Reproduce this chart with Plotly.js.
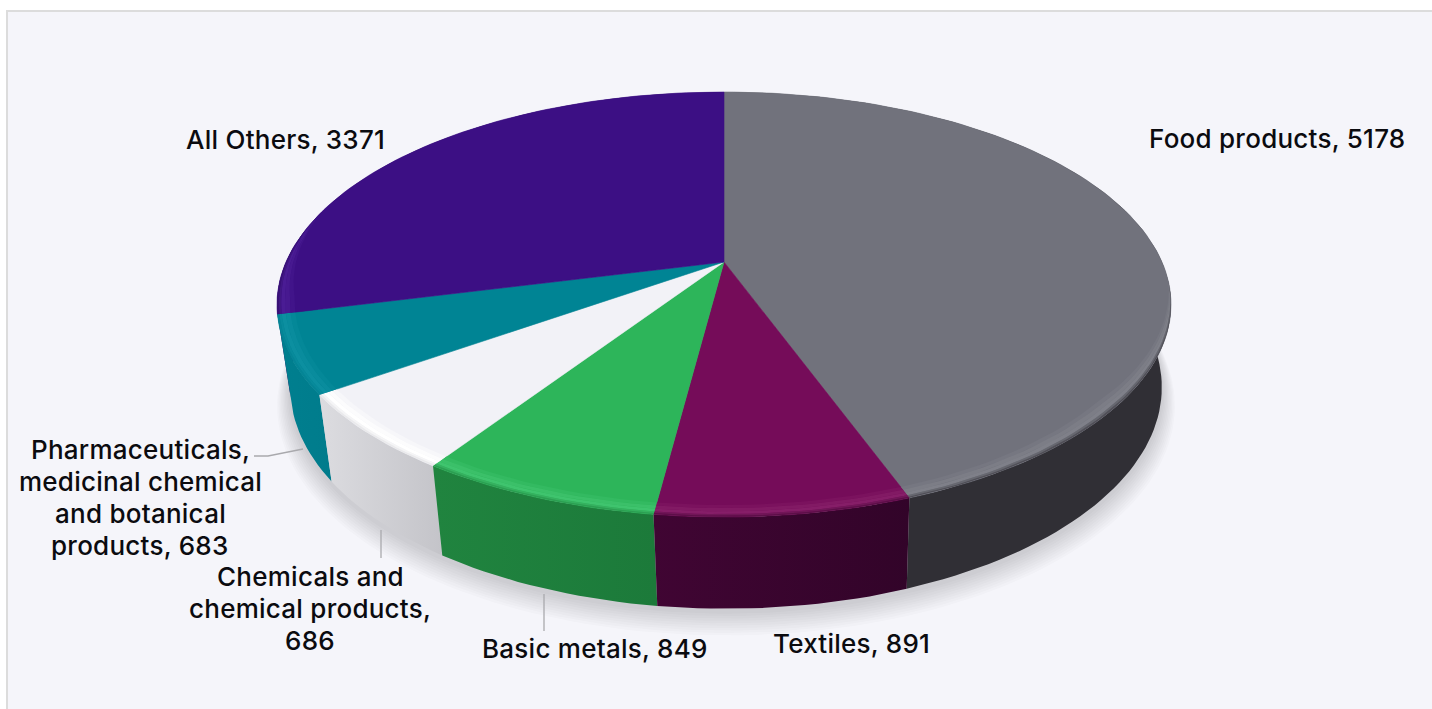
<!DOCTYPE html>
<html><head><meta charset="utf-8">
<script src="https://cdn.plot.ly/plotly-3.0.1.min.js"></script>
<style>html,body{margin:0;padding:0;background:#fff;overflow:hidden}#chart{width:1432px;height:709px}
.annotation-text{letter-spacing:0.25px}</style>
</head><body><div id="chart"></div>
<script>
// Data
const categories = ["Food products","Textiles","Basic metals","Chemicals and chemical products","Pharmaceuticals, medicinal chemical and botanical products","All Others"];
const values = [5178,891,849,686,683,3371];
const labelNames = ["Food products","Textiles","Basic metals","Chemicals and<br>chemical products","Pharmaceuticals,<br>medicinal chemical<br>and botanical<br>products","All Others"];
const labelSeparators = [", ",", ",", ",",<br>",", ",", "];
// Styles
const faceColors = ["#71727c","#750c59","#2db55a","#f2f2f7","#008494","#3c0f84"];
const rimColors  = ["#7f8089","#861e68","#3fc46e","#ffffff","#0c8fa0","#4a1c94"];
const wallStart  = ["#302f35","#400533","#20843f","#dcdce0","#007f8f","#2c0a60"];
const wallEnd    = ["#302f35","#320429","#1c7a3a","#c4c4c9","#007c8c","#2c0a60"];
const labelX = [1277,851,595,310,140,285];
const labelY = [138,643,648,576,449,139];
const linePitch = 32;

// Perspective of the disc
const topPlane = {cx:724,cy:262,a:-151.6,R:438};
const botPlane = {cx:726,cy:343,a:-144,R:427};
const B = 0.2;
function project(deg,r,p){
  const t=deg*Math.PI/180,u=r*Math.sin(t),v=r*Math.cos(t),w=1+B*v;
  return [p.cx+p.R*u/w,(p.cy+p.a*v)/w];
}
function arc(d0,d1,r,p){
  const pts=[],n=Math.max(2,Math.ceil(Math.abs(d1-d0)/1.5));
  for(let i=0;i<=n;i++){
    const d=d0+(d1-d0)*i/n;
    pts.push(project(d,typeof r==='function'?r(d):r,p));
  }
  return pts;
}
function hex(c){return [1,3,5].map(i=>parseInt(c.substr(i,2),16));}
function poly(pts,color,extra){
  return Object.assign({type:'scatter',mode:'lines',x:pts.map(p=>p[0]),y:pts.map(p=>p[1]),fill:'toself',
    fillcolor:color,line:{color:color,width:0.6},hoverinfo:'skip',showlegend:false},extra||{});
}
function clamp01(x){return Math.max(0,Math.min(1,x));}

const total = values.reduce((a,b)=>a+b,0);
const edges=[0];values.forEach(v=>edges.push(edges[edges.length-1]+v/total*360));
const traces=[];

// soft ground shadow
for(let k=0;k<10;k++){
  const s=1.03-k*0.003, dy=17-k*1.5;
  const p=Object.assign({},botPlane,{R:botPlane.R*s,cy:botPlane.cy+dy,a:botPlane.a*s});
  traces.push(poly(arc(0,360,1,p),'rgba(60,60,65,0.02)',{line:{width:0}}));
}
// side walls, rear slices first
[5,0,4,3,2,1].forEach(i=>{
  const pts=arc(edges[i],edges[i+1],1,topPlane).concat(arc(edges[i+1],edges[i],1,botPlane));
  pts.push(pts[0]);
  traces.push(poly(pts,wallStart[i],{
    line:{width:0},
    fillgradient:{type:'horizontal',colorscale:(i===0||i===5)
      ?[[0,wallEnd[i]],[1,wallStart[i]]]:[[0,wallStart[i]],[1,wallEnd[i]]]}
  }));
});
// top faces
values.forEach((v,i)=>{
  const pts=[project(0,0,topPlane)].concat(arc(edges[i],edges[i+1],1,topPlane));
  pts.push(pts[0]);
  traces.push(poly(pts,faceColors[i],{name:categories[i],text:categories[i]+': '+v,hoverinfo:'text',hoveron:'fills'}));
});
// bevelled rim on the front half, tapering out toward the sides
const taper=d=>clamp01((d-95)/35)*clamp01((285-d)/25);
const bands=[[0.962,0.972,0.35,0],[0.972,0.982,0.75,0],[0.982,0.991,1,0],[0.991,0.996,1,0.3],[0.996,1.0,1,0.6]];
values.forEach((v,i)=>{
  const d0=Math.max(edges[i],95),d1=Math.min(edges[i+1],285);
  if(d1<=d0)return;
  bands.forEach(([r0,r1,h,dk])=>{
    const f0=d=>1-(1-r0)*taper(d), f1=d=>1-(1-r1)*taper(d);
    const pts=arc(d0,d1,f1,topPlane).concat(arc(d1,d0,f0,topPlane));pts.push(pts[0]);
    const F=hex(faceColors[i]),R=hex(rimColors[i]),W=hex(wallStart[i]);
    const col='rgb('+F.map((c,k)=>{const hi=c+(R[k]-c)*h;return Math.round(hi+(W[k]-hi)*dk);}).join(',')+')';
    traces.push(poly(pts,col,{line:{width:0}}));
  });
});

const annotations=[];
values.forEach((v,i)=>{
  (labelNames[i]+labelSeparators[i]+v).split('<br>').forEach((t,k)=>{
    annotations.push({x:labelX[i],y:labelY[i]+k*linePitch,xref:'x',yref:'y',showarrow:false,xanchor:'center',yanchor:'middle',align:'center',
      text:t,font:{family:'Inter, sans-serif',size:26,weight:500,color:'#0b0b0f'}});
  });
});
const shapes=[
  {type:'rect',xref:'x',yref:'y',x0:7,y0:11,x1:1445,y1:725,fillcolor:'#f5f5fa',line:{color:'#dcdcdc',width:2},layer:'below'},
  {type:'path',xref:'x',yref:'y',path:'M254,456 L268,456 L303,449',line:{color:'#a9a9ad',width:1.3}},
  {type:'line',xref:'x',yref:'y',x0:381,y0:530,x1:381,y1:558,line:{color:'#a9a9ad',width:1.3}},
  {type:'line',xref:'x',yref:'y',x0:544,y0:594,x1:544,y1:631,line:{color:'#a9a9ad',width:1.3}}
];
Plotly.newPlot('chart',traces,{
  width:1432,height:709,margin:{l:0,r:0,t:0,b:0},paper_bgcolor:'#ffffff',plot_bgcolor:'rgba(0,0,0,0)',
  xaxis:{range:[0,1432],visible:false,fixedrange:true},
  yaxis:{range:[709,0],visible:false,fixedrange:true},
  showlegend:false,annotations,shapes,hovermode:'closest'
},{displayModeBar:false,responsive:false});
</script></body></html>
